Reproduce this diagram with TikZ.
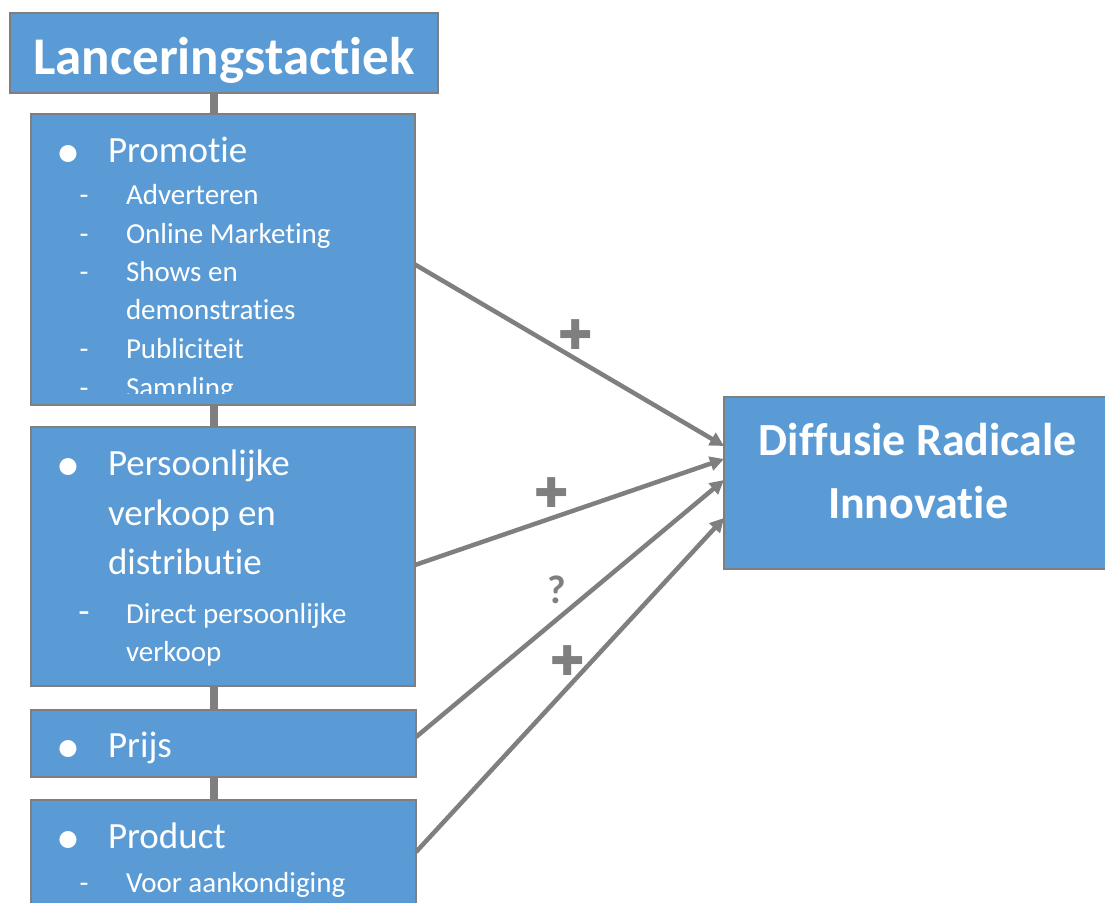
\documentclass[tikz,border=0pt]{standalone}
\usepackage{fontspec}
\setmainfont{Carlito}[Ligatures={NoCommon,NoRequired,NoContextual}]
\newfontfamily\symfont{DejaVu Sans}
\usetikzlibrary{arrows.meta}
\definecolor{boxblue}{HTML}{5B9BD5}
\definecolor{linegray}{HTML}{7F7F7F}
\newcommand{\noti}{t\kern0pt i}
\begin{document}
\begin{tikzpicture}[x=1pt,y=-1pt,
  box/.style={draw=linegray, line width=2.5pt, fill=boxblue, anchor=north west, inner sep=0pt, outer sep=0pt},
  txt/.style={anchor=base west, inner sep=0pt, outer sep=0pt, text=white},
  big/.style={txt, font=\fontsize{37}{44}\selectfont},
  small/.style={txt, font=\fontsize{29}{35}\selectfont},
  bul/.style={anchor=base, inner sep=0pt, outer sep=0pt, text=white, font=\fontsize{48}{56}\selectfont},
  dsh/.style={anchor=base, inner sep=0pt, outer sep=0pt, text=white, font=\fontsize{29}{35}\selectfont},
  bigdsh/.style={anchor=base, inner sep=0pt, outer sep=0pt, text=white, font=\fontsize{37}{44}\selectfont},
  stem/.style={draw=linegray, line width=8pt},
  arr/.style={draw=linegray, line width=4.5pt, -{Triangle[length=14pt,width=14pt]}},
  sign/.style={text=linegray, inner sep=0pt, outer sep=0pt, font=\symfont\fontsize{41}{48}\selectfont},
  qsign/.style={text=linegray, inner sep=0pt, outer sep=0pt, font=\bfseries\fontsize{40}{48}\selectfont},
  head/.style={anchor=base, inner sep=0pt, outer sep=0pt, text=white, font=\bfseries\fontsize{53}{60}\selectfont},
  diffhead/.style={anchor=base, inner sep=0pt, outer sep=0pt, text=white, font=\bfseries\fontsize{46}{54}\selectfont},
]
\useasboundingbox (0,0) rectangle (1105,902);

% boxes
\node[box, minimum width=428pt, minimum height=80pt] (title) at (10,13) {};
\node[box, minimum width=384pt, minimum height=291pt] (promo) at (31,114) {};
\node[box, minimum width=384pt, minimum height=259pt] (pers) at (31,427) {};
\node[box, minimum width=385pt, minimum height=67pt] (prijs) at (31,710) {};
\node[box, minimum width=385pt, minimum height=140pt] (prod) at (31,800) {};
\node[box, minimum width=400pt, minimum height=172pt] (diff) at (724,397) {};

% vertical stems
\draw[stem] ([xshift=-10pt]title.south) -- ([xshift=-10pt]title.south |- promo.north);
\draw[stem] ([xshift=-10pt]title.south |- promo.south) -- ([xshift=-10pt]title.south |- pers.north);
\draw[stem] ([xshift=-10pt]title.south |- pers.south) -- ([xshift=-10pt]title.south |- prijs.north);
\draw[stem] ([xshift=-10pt]title.south |- prijs.south) -- ([xshift=-10pt]title.south |- prod.north);

% headings
\node[head] (titletxt) at (224,74) {Lanceringstac\noti ek};
\node[diffhead] (diff1) at (918,455) {Diffusie Radicale};
\node[diffhead] (diff2) at (918,518) {Innova\noti e};

% Promotie
\node[bul] (b1) at (68.5,167) {•};
\node[big] (t1) at (108,162) {Promo\noti e};
\node[dsh] (d11) at (84,204) {-};
\node[small] (t11) at (126,204) {Adverteren};
\node[dsh] (d12) at (84,243) {-};
\node[small] (t12) at (126,243) {Online Marketing};
\node[dsh] (d13) at (84,281) {-};
\node[small] (t13) at (126,281) {Shows en};
\node[small] (t13b) at (126,319) {demonstra\noti es};
\node[dsh] (d14) at (84,358) {-};
\node[small] (t14) at (126,358) {Publiciteit};
\begin{scope}
  \clip (31,114) rectangle (415,393);
  \node[dsh] (d15) at (84,397) {-};
  \node[small] (t15) at (126,397) {Sampling};
\end{scope}

% Persoonlijke verkoop
\node[bul] (b2) at (68.5,480) {•};
\node[big] (t2a) at (108,475) {Persoonlijke};
\node[big] (t2b) at (108,525) {verkoop en};
\node[big] (t2c) at (108,574) {distribu\noti e};
\node[bigdsh] (d21) at (84,623) {-};
\node[small] (t21) at (126,623) {Direct persoonlijke};
\node[small] (t21b) at (126,661) {verkoop};

% Prijs
\node[bul] (b3) at (68.5,762) {•};
\node[big] (t3) at (108,757) {Prijs};

% Product
\node[bul] (b4) at (68.5,853) {•};
\node[big] (t4) at (108,848) {Product};
\node[dsh] (d41) at (84,892) {-};
\node[small] (t41) at (126,892) {Voor aankondiging};

% arrows
\draw[arr] ([yshift=-5pt]promo.east) -- ([yshift=-49pt]diff.north west);
\draw[arr] ([yshift=-8.5pt]pers.east) -- ([yshift=-62pt]diff.north west);
\draw[arr] ([yshift=6.5pt]prijs.east) -- ([yshift=-83pt]diff.north west);
\draw[arr] ([yshift=-52pt]prod.north east) -- ([yshift=-121pt]diff.north west);

% signs
\node[sign] (s1) at (576,335) {✚};
\node[sign] (s2) at (552,493) {✚};
\node[qsign] (s3) at (557,590) {?};
\node[sign] (s4) at (568,661) {✚};
\end{tikzpicture}
\end{document}
